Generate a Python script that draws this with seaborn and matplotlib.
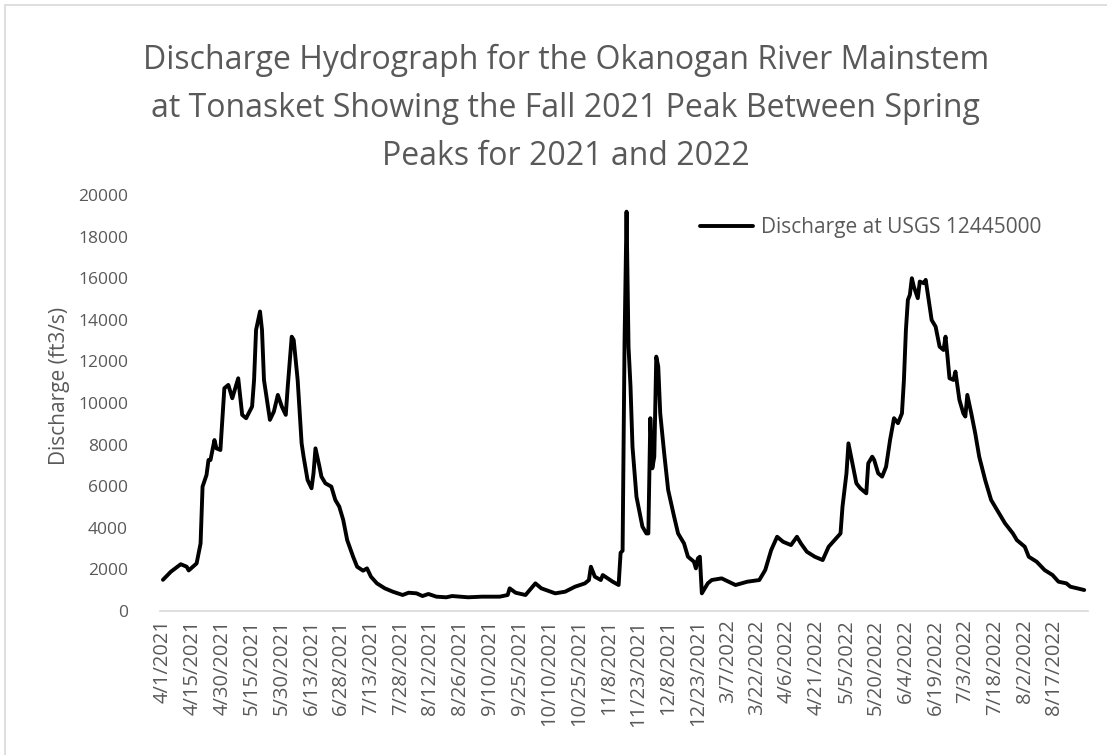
import matplotlib
matplotlib.use("Agg")
from matplotlib import pyplot as plt
from matplotlib.patches import Rectangle
import pandas as pd
import seaborn as sns

# observation number along the category axis (one per daily record)
obs = [0, 4, 9, 12, 13, 17, 19, 20, 22, 23, 24, 26, 27, 29, 31, 33, 35, 38, 40, 42,
       45, 46, 47, 49, 50, 51, 54, 56, 58, 60, 62, 63, 65, 66, 68, 70, 71, 73, 75, 76,
       77, 79, 80, 82, 85, 87, 89, 91, 93, 96, 98, 101, 103, 105, 108, 112, 116, 121, 124, 128,
       131, 134, 138, 143, 146, 154, 161, 170, 174, 175, 178, 183, 188, 191, 198, 203, 208, 213, 215, 216,
       218, 221, 222, 227, 230, 231, 232, 233, 234, 235, 236, 237, 239, 242, 244, 245, 246, 247, 248, 249,
       250, 251, 253, 255, 258, 260, 263, 265, 268, 269, 270, 271, 272, 275, 277, 282, 289, 295, 301, 304,
       307, 310, 313, 317, 320, 322, 325, 329, 333, 336, 339, 342, 343, 345, 346, 348, 350, 352, 355, 356,
       358, 359, 361, 363, 365, 367, 369, 371, 373, 374, 375, 376, 377, 378, 379, 381, 382, 384, 385, 386,
       388, 390, 392, 394, 395, 396, 397, 399, 400, 402, 404, 405, 406, 408, 410, 412, 415, 418, 421, 425,
       429, 431, 435, 437, 441, 445, 449, 452, 456, 458, 465]

# discharge in ft3/s
discharge = [1500, 1890, 2250, 2130, 1950, 2290, 3250, 5980, 6540, 7260, 7260, 8220, 7820, 7740, 10710, 10870, 10230, 11190, 9430, 9270,
             9830, 11110, 13510, 14400, 13510, 11110, 9190, 9590, 10390, 9830, 9430, 10790, 13190, 13030, 11110, 8060, 7420, 6300, 5900, 6620,
             7820, 6940, 6460, 6140, 5980, 5340, 5020, 4380, 3410, 2610, 2130, 1940, 2050, 1650, 1330, 1090, 930, 770, 880, 850,
             720, 820, 690, 660, 720, 660, 690, 690, 770, 1090, 880, 770, 1330, 1090, 850, 930, 1170, 1330, 1490, 2130,
             1650, 1490, 1730, 1410, 1250, 2800, 2900, 13000, 19200, 12700, 10790, 7900, 5500, 4060, 3730, 3730, 9270, 6860, 7420, 12230,
             11750, 9500, 7580, 5820, 4540, 3730, 3250, 2610, 2370, 2050, 2530, 2610, 850, 1330, 1490, 1570, 1250, 1410, 1490, 1970,
             2930, 3570, 3330, 3170, 3570, 3250, 2850, 2610, 2450, 3090, 3410, 3730, 5020, 6620, 8060, 7100, 6140, 5900, 5660, 7100,
             7420, 7260, 6620, 6460, 6940, 8220, 9270, 9030, 9500, 11110, 13510, 14960, 15200, 16000, 15600, 15040, 15840, 15760, 15920, 15280,
             13990, 13670, 12710, 12550, 13190, 12230, 11190, 11110, 11510, 10150, 9500, 9350, 10390, 9500, 8540, 7420, 6300, 5340, 4860, 4220,
             3730, 3410, 3090, 2610, 2370, 1970, 1730, 1410, 1330, 1170, 1010]

date_labels = ["4/1/2021", "4/15/2021", "4/30/2021", "5/15/2021", "5/30/2021", "6/13/2021",
               "6/28/2021", "7/13/2021", "7/28/2021", "8/12/2021", "8/26/2021", "9/10/2021",
               "9/25/2021", "10/10/2021", "10/25/2021", "11/8/2021", "11/23/2021", "12/8/2021",
               "12/23/2021", "3/7/2022", "3/22/2022", "4/6/2022", "4/21/2022", "5/5/2022",
               "5/20/2022", "6/4/2022", "6/19/2022", "7/3/2022", "7/18/2022", "8/2/2022", "8/17/2022"]

title_lines = ["Discharge Hydrograph for the Okanogan River Mainstem",
               "at Tonasket Showing the Fall 2021 Peak Between Spring",
               "Peaks for 2021 and 2022"]

label_step = 15
y_ticks = list(range(0, 20001, 2000))

df = pd.DataFrame({"obs": obs, "discharge": discharge})

sns.set_style("white")
plt.rcParams["font.family"] = ["Open Sans", "DejaVu Sans"]
grey = "#595959"

fig = plt.figure(figsize=(11.07, 7.55), dpi=100)
ax = fig.add_axes([0.1445, 0.1907, 0.8385, 0.551])

sns.lineplot(data=df, x="obs", y="discharge", ax=ax, color="black", linewidth=2.8,
             label="Discharge at USGS 12445000")

ax.set_xlim(-1.5, 467)
ax.set_ylim(0, 20000)
ax.set_yticks(y_ticks)
ax.set_yticklabels([str(v) for v in y_ticks], color=grey, fontsize=12.5)
ax.set_xticks([i * label_step for i in range(len(date_labels))])
ax.set_xticklabels(date_labels, rotation=90, color=grey, fontsize=14.5)
ax.tick_params(axis="y", length=0, pad=23)
ax.tick_params(axis="x", length=0, pad=6)
ax.set_xlabel("")
ax.set_ylabel("Discharge (ft3/s)", color=grey, fontsize=15)
ax.yaxis.set_label_coords(-0.097, 0.54)

for side in ["top", "right", "left"]:
    ax.spines[side].set_visible(False)
ax.spines["bottom"].set_color("#d9d9d9")
ax.spines["bottom"].set_linewidth(1.2)

# three-line chart title, centred on the chart area
for k, line in enumerate(title_lines):
    fig.text(0.511, 0.920 - k * 0.0635, line, color=grey, fontsize=23,
             ha="center", va="center")

leg = ax.legend(loc="center left", bbox_to_anchor=(0.582, 0.921), frameon=False,
                fontsize=15, handlelength=2.55, handletextpad=0.35, borderpad=0,
                borderaxespad=0)
for t in leg.get_texts():
    t.set_color(grey)

fig.patches.append(Rectangle((5 / 1107, -0.1), 1.2, 1.1 - 5 / 755, transform=fig.transFigure,
                             fill=False, edgecolor="#d9d9d9", linewidth=1.2))

fig.savefig("out.png", dpi=100)
